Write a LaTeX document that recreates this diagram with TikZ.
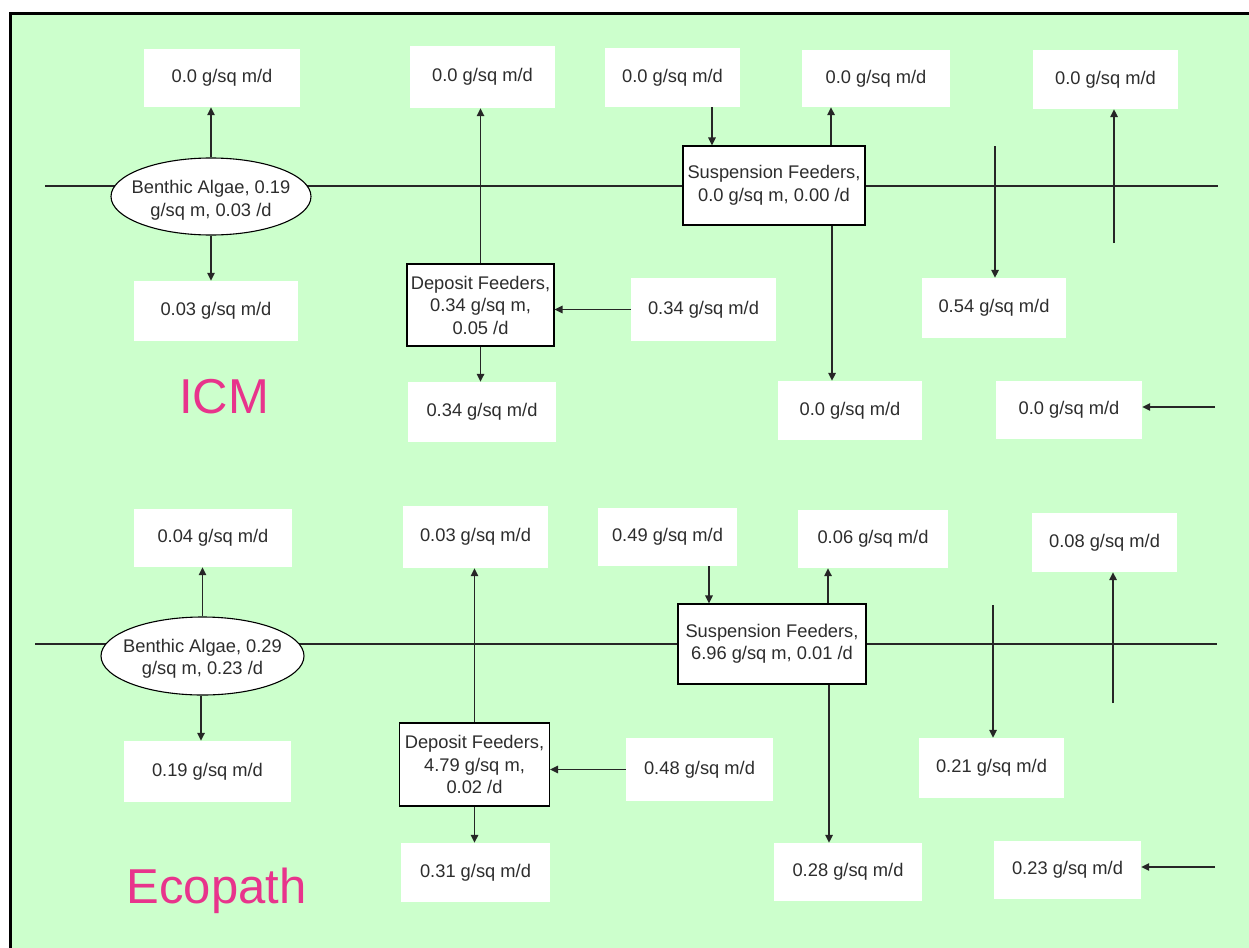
\documentclass[tikz,border=0pt]{standalone}
\usepackage{fontspec}
\setmainfont{Liberation Sans}
\usetikzlibrary{shapes.geometric,arrows.meta}
\definecolor{bggreen}{RGB}{204,255,204}
\definecolor{labpink}{RGB}{232,52,140}
\definecolor{txtgray}{RGB}{45,45,45}
\newcommand{\fluxfont}{\fontsize{18.3}{22.5}\selectfont}
\newcommand{\titlefont}{\fontsize{49}{55}\selectfont}
\begin{document}
\begin{tikzpicture}[x=1pt,y=-1pt,
  sz/.style 2 args={minimum width=#1pt, minimum height=#2pt},
  flux/.style={fill=white, inner sep=0pt, font=\fluxfont, text=txtgray},
  comp/.style={fill=white, draw=black, line width=1.1pt, inner sep=0pt, align=center, font=\fluxfont, text=txtgray},
  algae/.style={ellipse, fill=white, draw=black, line width=1.1pt, inner sep=0pt},
  algaetext/.style={inner sep=0pt, align=center, font=\fluxfont, text=txtgray},
  axisline/.style={line width=1.5pt, draw=black!85},
  flow/.style={axisline, -{Triangle[length=8pt,width=7.5pt]}},
  title/.style={font=\titlefont, text=labpink, anchor=base, inner sep=0pt}]
\useasboundingbox (0,0) rectangle (1249,947);
\fill[white] (0,0) rectangle (1249,947);
\fill[bggreen] (10.5,13.5) rectangle (1252,950);
\draw[line width=3pt] (10.5,952) -- (10.5,13.5) -- (1252,13.5);

% ---------------- ICM (top half) ----------------
\coordinate (L1) at (45,186);
\coordinate (R1) at (1218,186);
\draw[axisline] (L1) -- (R1);

\node[algae, sz={200}{77}] (ba1) at (211,196.5) {};
\node[algaetext, yshift=-4pt] (ba1t) at (ba1.center) {Benthic Algae, 0.19\\g/sq m, 0.03 /d};
\node[comp, sz={147}{82}] (df1) at (480.5,305) {Deposit Feeders,\\0.34 g/sq m,\\0.05 /d};
\node[comp, sz={182}{79}] (sf1) at (774,185.5) {Suspension Feeders,\\0.0 g/sq m, 0.00 /d};

\node[flux, sz={156}{58}] (t1) at (222,78) {0.0 g/sq m/d};
\node[flux, sz={164}{60}] (t2) at (216,311) {0.03 g/sq m/d};
\node[flux, sz={145}{62}] (t3) at (482.5,77) {0.0 g/sq m/d};
\node[flux, sz={135}{59}] (t4) at (672.5,77.5) {0.0 g/sq m/d};
\node[flux, sz={148}{57}] (t5) at (876,78.5) {0.0 g/sq m/d};
\node[flux, sz={145}{59}] (t6) at (1105.5,79.5) {0.0 g/sq m/d};
\node[flux, sz={145}{63}] (t7) at (703.5,309.5) {0.34 g/sq m/d};
\node[flux, sz={148}{60}] (t8) at (482,412) {0.34 g/sq m/d};
\node[flux, sz={144}{59}] (t9) at (850,410.5) {0.0 g/sq m/d};
\node[flux, sz={144}{60}] (t10) at (994,308) {0.54 g/sq m/d};
\node[flux, sz={146}{58}] (t11) at (1069,410) {0.0 g/sq m/d};

\node[title] (icm) at (224,413) {ICM};

\coordinate (v1) at (995,146);
\coordinate (v2) at (1114,243);
\coordinate (h1) at (1215,407);

\draw[flow] (ba1.north) -- (ba1.north |- t1.south);
\draw[flow] (ba1.south) -- (ba1.south |- t2.north);
\draw[flow] (df1.north) -- (df1.north |- t3.south);
\draw[flow] (t7.west) -- (t7.west -| df1.east);
\draw[flow] (df1.south) -- (df1.south |- t8.north);
\draw[flow] ([xshift=39.5pt]t4.south) -- ([xshift=39.5pt]t4.south |- sf1.north);
\draw[flow] ([xshift=57pt]sf1.north) -- ([xshift=57pt]sf1.north |- t5.south);
\draw[flow] ([xshift=58pt]sf1.south) -- ([xshift=58pt]sf1.south |- t9.north);
\draw[flow] (v1) -- (v1 |- t10.north);
\draw[flow] (v2) -- (v2 |- t6.south);
\draw[flow] (h1) -- (h1 -| t11.east);

% ---------------- Ecopath (bottom half) ----------------
\coordinate (L2) at (35,644);
\coordinate (R2) at (1217,644);
\draw[axisline] (L2) -- (R2);

\node[algae, sz={203}{78}] (ba2) at (202.5,656) {};
\node[algaetext, yshift=-3pt] (ba2t) at (ba2.center) {Benthic Algae, 0.29\\g/sq m, 0.23 /d};
\node[comp, sz={150}{83}] (df2) at (474.5,764.5) {Deposit Feeders,\\4.79 g/sq m,\\0.02 /d};
\node[comp, sz={188}{80}] (sf2) at (772,644) {Suspension Feeders,\\6.96 g/sq m, 0.01 /d};

\node[flux, sz={158}{58}] (b1) at (213,538) {0.04 g/sq m/d};
\node[flux, sz={167}{61}] (b2) at (207.5,771.5) {0.19 g/sq m/d};
\node[flux, sz={145}{62}] (b3) at (475.5,537) {0.03 g/sq m/d};
\node[flux, sz={139}{58}] (b4) at (667.5,537) {0.49 g/sq m/d};
\node[flux, sz={150}{58}] (b5) at (873,539) {0.06 g/sq m/d};
\node[flux, sz={145}{59}] (b6) at (1104.5,542.5) {0.08 g/sq m/d};
\node[flux, sz={147}{63}] (b7) at (699.5,769.5) {0.48 g/sq m/d};
\node[flux, sz={149}{59}] (b8) at (475.5,872.5) {0.31 g/sq m/d};
\node[flux, sz={148}{58}] (b9) at (848,872) {0.28 g/sq m/d};
\node[flux, sz={145}{60}] (b10) at (991.5,768) {0.21 g/sq m/d};
\node[flux, sz={147}{58}] (b11) at (1067.5,870) {0.23 g/sq m/d};

\node[title] (eco) at (216.5,903) {Ecopath};

\coordinate (v3) at (993,605);
\coordinate (v4) at (1113,703);
\coordinate (h2) at (1215,867);

\draw[flow] (ba2.north) -- (ba2.north |- b1.south);
\draw[flow] ([xshift=-1.5pt]ba2.south) -- ([xshift=-1.5pt]ba2.south |- b2.north);
\draw[flow] (df2.north) -- (df2.north |- b3.south);
\draw[flow] (b7.west) -- (b7.west -| df2.east);
\draw[flow] (df2.south) -- (df2.south |- b8.north);
\draw[flow] ([xshift=41.5pt]b4.south) -- ([xshift=41.5pt]b4.south |- sf2.north);
\draw[flow] ([xshift=56pt]sf2.north) -- ([xshift=56pt]sf2.north |- b5.south);
\draw[flow] ([xshift=57pt]sf2.south) -- ([xshift=57pt]sf2.south |- b9.north);
\draw[flow] (v3) -- (v3 |- b10.north);
\draw[flow] (v4) -- (v4 |- b6.south);
\draw[flow] (h2) -- (h2 -| b11.east);
\end{tikzpicture}
\end{document}
